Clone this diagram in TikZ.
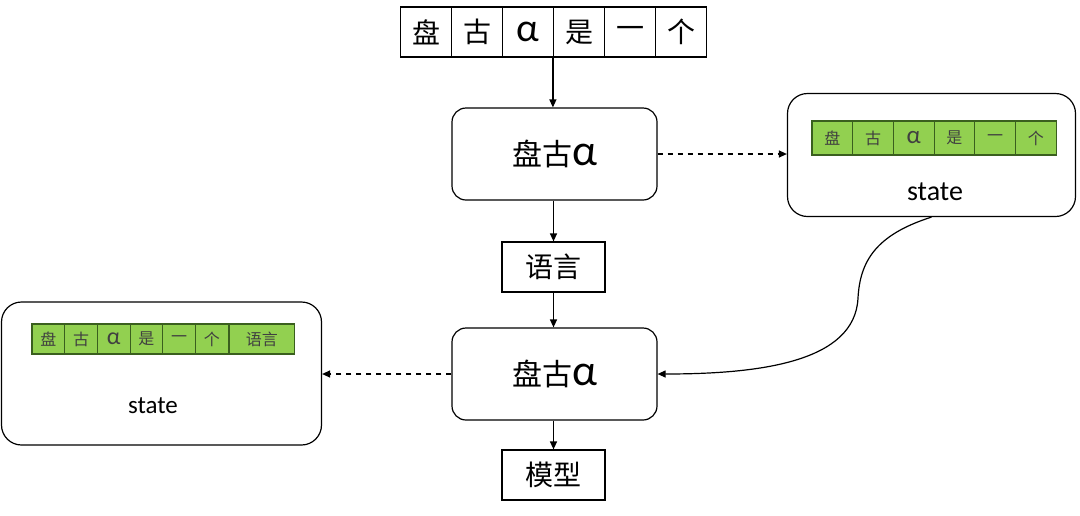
\documentclass[tikz,border=0pt]{standalone}
\usepackage{fontspec}
\setmainfont{Carlito}
\newfontfamily\cjk{Noto Sans CJK SC}
\usetikzlibrary{arrows.meta}
\definecolor{cellgreen}{HTML}{92D050}
\definecolor{celledge}{HTML}{3A5F1E}
\newcommand\alf[1]{{\rmfamily\fontsize{#1}{#1}\selectfont α}}
\begin{document}
\begin{tikzpicture}[x=1pt,y=-1pt,line width=1.2pt,
  tok/.style={draw,minimum width=51pt,minimum height=50pt,inner sep=0pt,font=\cjk\fontsize{28}{30}\selectfont},
  gtok/.style={draw=celledge,fill=cellgreen,text=black!75,minimum height=#1,inner sep=0pt,font=\cjk\fontsize{16}{18}\selectfont},
  model/.style={draw,rounded corners=14pt,minimum width=205pt,minimum height=92pt,inner sep=0pt,font=\cjk\fontsize{30}{32}\selectfont},
  word/.style={draw,minimum width=103pt,minimum height=50pt,inner sep=0pt,font=\cjk\fontsize{28}{30}\selectfont},
  statebox/.style={draw,rounded corners=20pt,inner sep=0pt},
  arr/.style={-{Triangle[length=8pt,width=7pt]}},
  dash arr/.style={arr,dash pattern=on 5pt off 5pt}]
\useasboundingbox (0,0) rectangle (1080,515);
% input tokens
\foreach \t [count=\i] in {盘,古,\alf{40},是,一,个}
  \node[tok] (t\i) at ({400.5+51*(\i-0.5)},32) {\t};
% model steps
\node[model] (m1) at (554.5,154) {盘古\alf{44}};
\node[word] (w1) at (553.5,267) {语言};
\node[model] (m2) at (554.5,374) {盘古\alf{44}};
\node[word] (w2) at (553.5,475) {模型};
% state boxes
\node[statebox,minimum width=288pt,minimum height=123pt] (s1) at (931.5,155) {};
\node[statebox,minimum width=320pt,minimum height=143pt] (s2) at (161.5,373.5) {};
\foreach \t [count=\i] in {盘,古,\alf{25},是,一,个}
  \node[gtok=34pt,minimum width=40.7pt] (a\i) at ({812+40.7*(\i-0.5)},138) {\t};
\foreach \t [count=\i] in {盘,古,\alf{24},是,一,个}
  \node[gtok=30pt,minimum width=32.7pt] (b\i) at ({32+32.7*(\i-0.5)},339) {\t};
\node[gtok=30pt,minimum width=65pt,anchor=west] (b7) at (b6.east) {语言};
\node[font=\fontsize{28}{30}\selectfont] (l1) at (935,192) {state};
\node[font=\fontsize{25}{28}\selectfont] (l2) at (153,406) {state};
% connectors
\draw[arr] (t4.south west) -- (t4.south west |- m1.north);
\draw[arr] (m1.south -| w1) -- (w1.north);
\draw[arr] (w1.south) -- (w1.south |- m2.north);
\draw[arr] (m2.south -| w2) -- (w2.north);
\draw[dash arr] (m1.east) -- (m1.east -| s1.west);
\draw[dash arr] (m2.west) -- (m2.west -| s2.east);
\draw[arr] (s1.south) .. controls (875,235) and (860,262) .. (858,298)
  .. controls (855,362) and (760,374) .. (m2.east);
\end{tikzpicture}
\end{document}
